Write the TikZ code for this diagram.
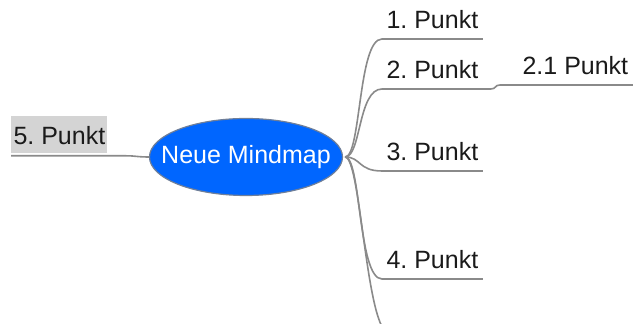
\documentclass[tikz,border=0pt]{standalone}
\usepackage{fontspec}
\setmainfont{Liberation Sans}
\usepackage{xcolor}
\usepackage{tikz}
\usetikzlibrary{calc,shapes.geometric}
\definecolor{mmblue}{HTML}{0066FF}
\definecolor{mmrim}{HTML}{6F7F99}
\definecolor{mmline}{HTML}{8A8A8A}
\definecolor{mmgray}{HTML}{D4D4D4}
\definecolor{mmtext}{HTML}{1A1A1A}
\tikzset{
  root/.style={ellipse,fill=mmblue,draw=mmrim,line width=0.6pt,text=white,inner sep=0pt,minimum width=96.5pt,minimum height=38.5pt},
  leaf/.style={anchor=south west,text=mmtext,inner xsep=0pt,inner ysep=5pt,text depth=0pt,minimum width=50pt},
  marked/.style={leaf,anchor=north west,fill=mmgray,minimum width=48pt,minimum height=18.5pt,inner ysep=0pt,text height=10pt},
  branch/.style={draw=mmline,line width=0.8pt},
}
\frenchspacing
\begin{document}
\begin{tikzpicture}[x=0.5pt,y=-0.5pt,every node/.style={font=\fontsize{12.5}{14}\selectfont}]
  \useasboundingbox (0,0) rectangle (633,324);
  \clip (0,0) rectangle (633,324);
  % centre
  \node[root] (root) at (246,157) {\makebox[0pt]{Neue Mindmap}};
  % right side
  \node[leaf] (p1) at (382,39) {1. Punkt};
  \node[leaf] (p2) at (382,89) {2. Punkt};
  \node[leaf,minimum width=75pt] (p21) at (500,85) {2.1 Punkt};
  \node[leaf] (p3) at (382,171) {3. Punkt};
  \node[leaf] (p4) at (382,279) {4. Punkt};
  \node[leaf] (p6) at (390,334) {};
  % left side
  \node[marked] (p5) at (11,116) {5. Punkt};
  \foreach \n in {p1,p2,p3,p4,p6}
    \draw[branch] ($(root.east)+(2,0)$) .. controls +(16,0) and +(-24,0) .. (\n.south west) -- (\n.south east);
  \draw[branch] (p2.south east) -- ++(8,0) .. controls +(6,0) and +(-6,0) .. (p21.south west) -- (p21.south east);
  \draw[branch] (root.west) .. controls +(-12,0) and +(10,0) .. ($(p5.south east)+(18,2)$) -- ($(p5.south west)+(0,2)$);
\end{tikzpicture}
\end{document}
